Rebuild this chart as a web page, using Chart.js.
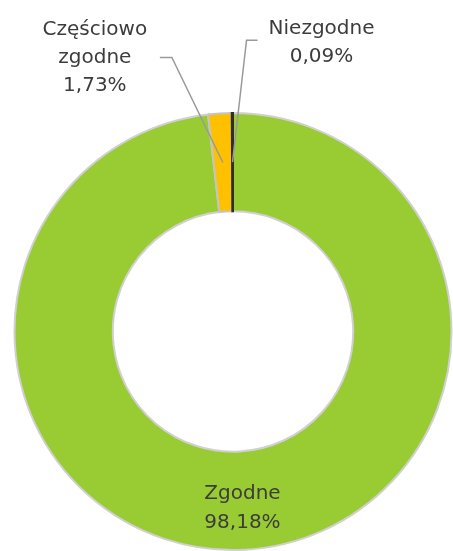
<!DOCTYPE html>
<html>
<head>
<meta charset="utf-8">
<script src="https://cdn.jsdelivr.net/npm/chart.js@4"></script>
<style>
  html, body { margin: 0; padding: 0; background: #fff; }
  #wrap { width: 453px; height: 551px; position: relative; }
</style>
</head>
<body>
<div id="wrap"><canvas id="chart"></canvas></div>
<script>
// ===== Data =====
const categories = ['Zgodne', 'Częściowo zgodne', 'Niezgodne'];
const percentages = [98.18, 1.73, 0.09];
const labelLines = [['Zgodne', '98,18%'], ['Częściowo', 'zgodne', '1,73%'], ['Niezgodne', '0,09%']];
const sliceColors = ['#99cc33', '#ffc000', '#3a3a3a'];
const sliceBorders = ['#d0d0d0', '#c4c4c4', '#2e2e2e'];

// label placement per slice: dx/dy of text centre from the slice anchor, elbow offset for leader
const labelPlacement = [
    { inside: true },
    { dx: -128, dy: -105, elbow: [-51, -105], end: [-63, -105] },
    { dx: 89, dy: -119, elbow: [14, -122], end: [25, -122] }
];

// ===== Labels + leader lines =====
const labelPlugin = {
    id: 'labelPlugin',
    afterDatasetsDraw(chart) {
        const ctx = chart.ctx;
        const meta = chart.getDatasetMeta(0);
        ctx.save();
        ctx.font = '20px "DejaVu Sans"';
        ctx.fillStyle = '#3c3c3c';
        ctx.textAlign = 'center';
        ctx.textBaseline = 'middle';
        meta.data.forEach((arc, i) => {
            const p = labelPlacement[i];
            const lines = labelLines[i];
            if (p.inside) {
                const r = arc.outerRadius - 35;
                const a = (arc.startAngle + arc.endAngle) / 2;
                const x = arc.x + Math.cos(a) * r - 1;
                const y = arc.y + Math.sin(a) * r - 6;
                lines.forEach((t, k) => ctx.fillText(t, x, y + (k - (lines.length - 1) / 2) * 29));
                return;
            }
            const pos = arc.tooltipPosition();
            // leader line
            ctx.strokeStyle = '#9a9a9a';
            ctx.lineWidth = 1.5;
            ctx.beginPath();
            ctx.moveTo(pos.x, pos.y);
            ctx.lineTo(pos.x + p.elbow[0], pos.y + p.elbow[1]);
            ctx.lineTo(pos.x + p.end[0], pos.y + p.end[1]);
            ctx.stroke();
            const x = pos.x + p.dx;
            const y = pos.y + p.dy;
            lines.forEach((t, k) => ctx.fillText(t, x, y + (k - (lines.length - 1) / 2) * 28));
        });
        ctx.restore();
    }
};

new Chart(document.getElementById('chart'), {
    type: 'doughnut',
    data: {
        labels: categories,
        datasets: [{
            data: percentages,
            backgroundColor: sliceColors,
            borderColor: sliceBorders,
            borderWidth: 2,
            borderJoinStyle: 'miter'
        }]
    },
    options: {
        responsive: true,
        maintainAspectRatio: false,
        animation: false,
        cutout: '55%',
        layout: { padding: { top: 112, bottom: 0, left: 13, right: 0 } },
        plugins: {
            legend: { display: false },
            tooltip: { enabled: false }
        }
    },
    plugins: [labelPlugin]
});
</script>
</body>
</html>
